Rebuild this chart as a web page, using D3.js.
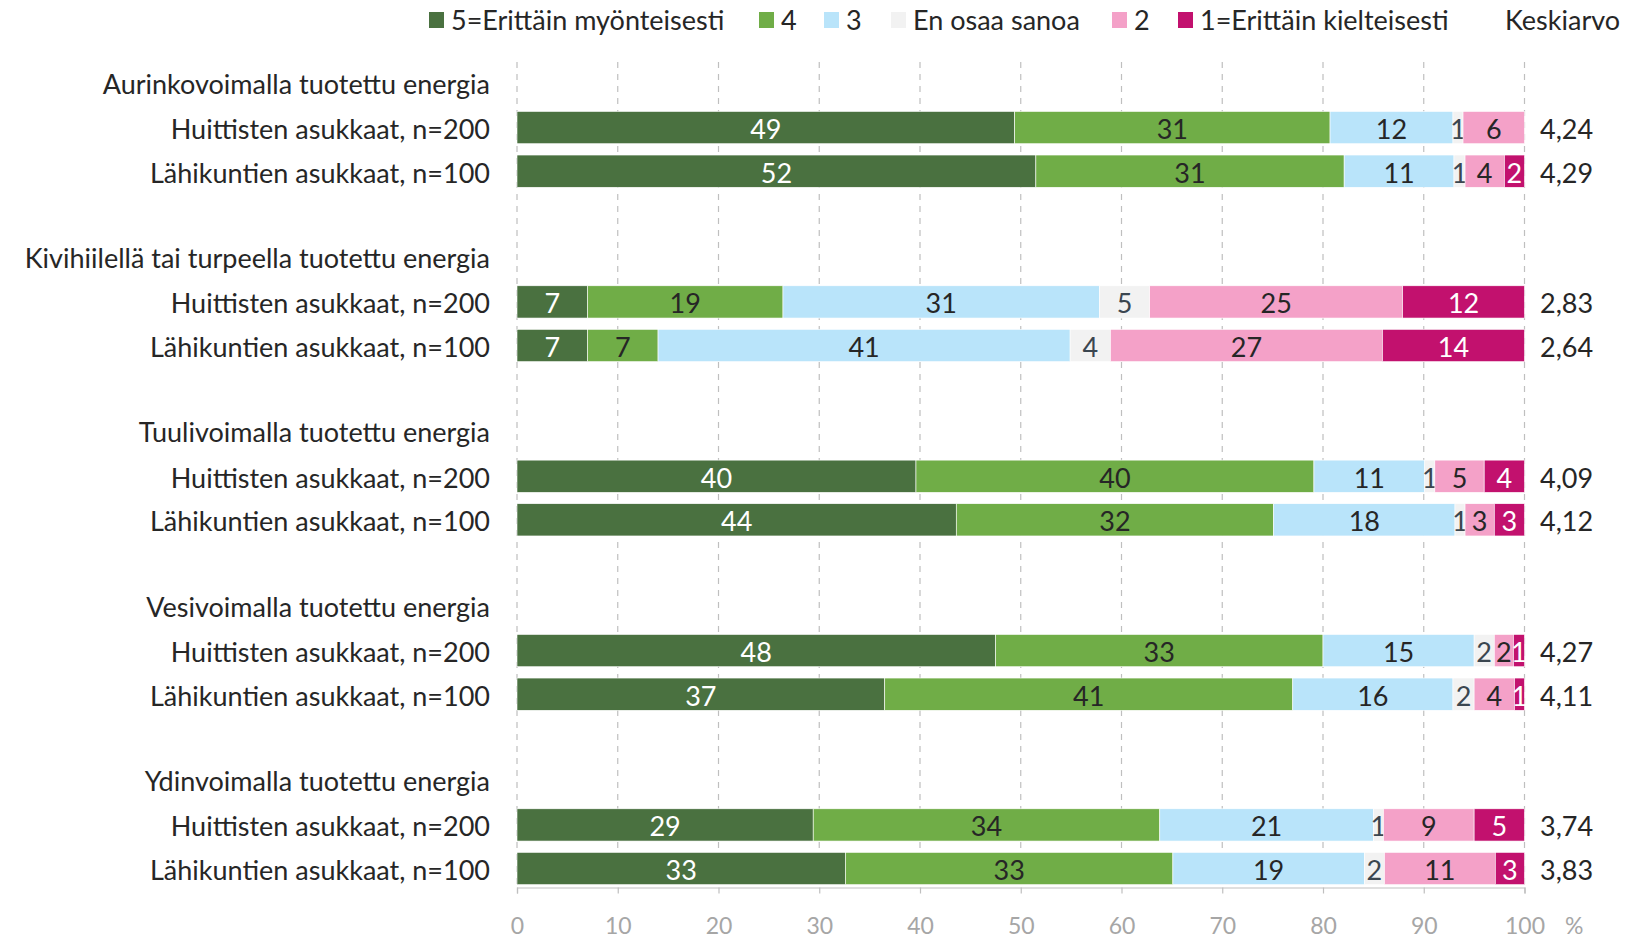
<!DOCTYPE html>
<html><head><meta charset="utf-8">
<script src="https://cdn.jsdelivr.net/npm/d3@7"></script>
<style>body{margin:0;background:#fff;} svg{display:block;} text{font-family:Lato,"Noto Sans",sans-serif;}</style>
</head><body>
<svg id="c" width="1627" height="944"></svg>
<script>
const groups = ["Aurinkovoimalla tuotettu energia", "Kivihiilellä tai turpeella tuotettu energia", "Tuulivoimalla tuotettu energia", "Vesivoimalla tuotettu energia", "Ydinvoimalla tuotettu energia"];
const respondents = ["Huittisten asukkaat, n=200", "Lähikuntien asukkaat, n=100"];
const seriesNames = ["5=Erittäin myönteisesti", "4", "3", "En osaa sanoa", "2", "1=Erittäin kielteisesti"];
const s5  = [49.4, 51.5, 7.0, 7.0, 39.6, 43.6, 47.5, 36.5, 29.4, 32.6];
const s4  = [31.3, 30.6, 19.4, 7.0, 39.5, 31.5, 32.5, 40.5, 34.4, 32.5];
const s3  = [12.2, 10.9, 31.4, 40.9, 11.0, 18.0, 15.0, 15.9, 21.2, 19.0];
const sEos= [1.0, 1.1, 5.0, 4.0, 1.0, 1.0, 2.0, 2.1, 1.0, 2.0];
const s2  = [6.1, 3.9, 25.1, 27.0, 4.9, 2.9, 1.9, 4.0, 9.0, 11.0];
const s1  = [0, 2.0, 12.1, 14.1, 4.0, 3.0, 1.1, 1.0, 5.0, 2.9];
const means = [4.24, 4.29, 2.83, 2.64, 4.09, 4.12, 4.27, 4.11, 3.74, 3.83];
const xTicks = [0, 10, 20, 30, 40, 50, 60, 70, 80, 90, 100];
const meanTitle = "Keskiarvo";
const unitLabel = "%";

const colors = ["#4a7140", "#70ad47", "#b9e4fa", "#f2f2f2", "#f4a1c8", "#c2116e"];
const labelColors = ["#ffffff", "#262626", "#262626", "#3b4650", "#262626", "#ffffff"];
const seriesVals = [s5, s4, s3, sEos, s2, s1];
const FS = 27;

const svg = d3.select("#c");
const x = d3.scaleLinear().domain([0, 100]).range([517, 1524.5]);

const rowIds = [];
groups.forEach((g, gi) => {
  rowIds.push("t" + gi);
  respondents.forEach((r, ri) => rowIds.push("b" + gi + "_" + ri));
  if (gi < groups.length - 1) rowIds.push("g" + gi);
});
const y = d3.scaleBand().domain(rowIds).range([62.2, 890.3]).paddingInner(0).paddingOuter(0);
const barH = y.bandwidth() * 0.74;
const axisY = 887.5;

svg.append("g").selectAll("line").data(xTicks).join("line")
  .attr("x1", d => x(d)).attr("x2", d => x(d))
  .attr("y1", 62).attr("y2", axisY)
  .attr("stroke", "#bfbfbf").attr("stroke-width", 1.2).attr("stroke-dasharray", "6,6");

const rows = [];
groups.forEach((g, gi) => respondents.forEach((r, ri) => {
  rows.push({id: "b" + gi + "_" + ri, label: r, idx: gi * 2 + ri});
}));

const barG = svg.append("g");
rows.forEach(row => {
  let cum = 0;
  const yc = y(row.id) + y.bandwidth() / 2;
  seriesVals.forEach((vals, si) => {
    const v = vals[row.idx];
    const x0 = cum, x1 = cum + v;
    cum = x1;
    if (v <= 0) return;
    barG.append("rect")
      .attr("x", x(x0)).attr("width", x(x1) - x(x0))
      .attr("y", yc - barH / 2).attr("height", barH)
      .attr("fill", colors[si]).attr("stroke", "#ffffff").attr("stroke-width", 0.6);
    barG.append("text")
      .attr("x", (x(x0) + x(x1)) / 2).attr("y", yc)
      .attr("dy", "0.42em").attr("text-anchor", "middle")
      .attr("font-size", FS).attr("fill", labelColors[si])
      .text(Math.round(v));
  });
  svg.append("text").attr("x", 1540).attr("y", yc).attr("dy", "0.42em")
    .attr("font-size", FS).attr("fill", "#262626")
    .text(d3.format(".2f")(means[row.idx]).replace(".", ","));
  svg.append("text").attr("x", 490).attr("y", yc).attr("dy", "0.42em")
    .attr("text-anchor", "end").attr("font-size", FS).attr("fill", "#262626")
    .text(row.label);
});

groups.forEach((g, gi) => {
  svg.append("text").attr("x", 490).attr("y", y("t" + gi) + y.bandwidth() / 2).attr("dy", "0.36em")
    .attr("text-anchor", "end").attr("font-size", FS).attr("fill", "#262626").text(g);
});

const ax = svg.append("g").attr("transform", `translate(0,${axisY})`)
  .call(d3.axisBottom(x).tickValues(xTicks).tickSize(6).tickPadding(24).tickFormat(d3.format("d")));
ax.select(".domain").attr("stroke", "#bfbfbf").attr("stroke-width", 1.2);
ax.selectAll(".tick line").attr("stroke", "#bfbfbf").attr("stroke-width", 1.2);
ax.selectAll(".tick text").attr("font-size", 23).attr("fill", "#a6a6a6").attr("font-family", "Lato");
svg.append("text").attr("x", 1565).attr("y", 926).attr("dy", "0.36em")
  .attr("font-size", 23).attr("fill", "#a6a6a6").text(unitLabel);

const legX = [429, 759, 824, 891, 1112, 1178];
seriesNames.forEach((n, i) => {
  const g = svg.append("g").attr("transform", `translate(${legX[i]},20)`);
  g.append("rect").attr("x", 0).attr("y", -8).attr("width", 15).attr("height", 16).attr("fill", colors[i]);
  g.append("text").attr("x", 22).attr("y", 0).attr("dy", "0.36em").attr("font-size", FS).attr("fill", "#262626").text(n);
});
svg.append("text").attr("x", 1505).attr("y", 20).attr("dy", "0.36em").attr("font-size", FS).attr("fill", "#262626").text(meanTitle);
</script>
</body></html>
